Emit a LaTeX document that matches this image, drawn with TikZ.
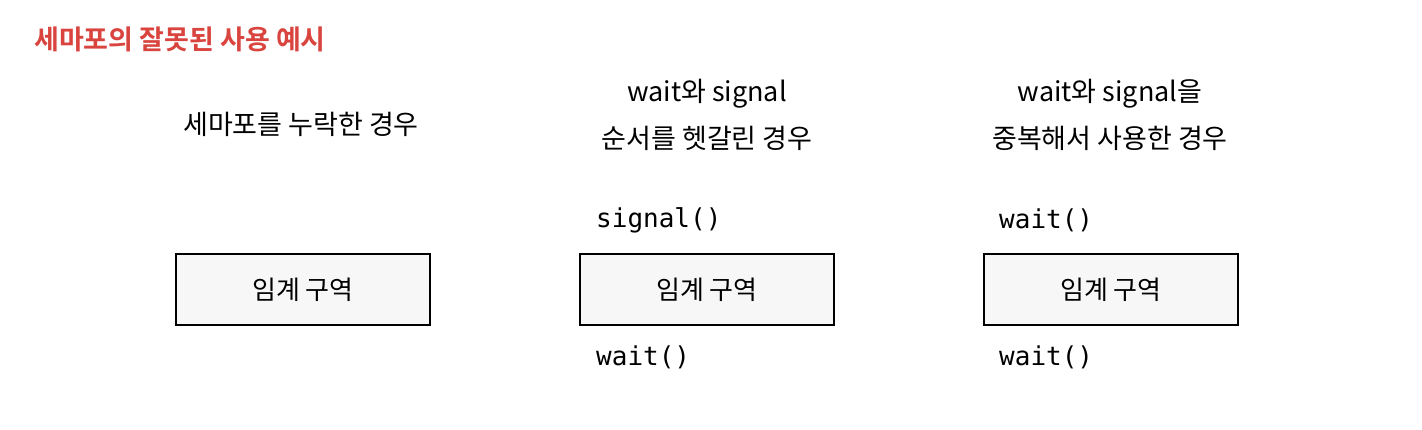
\documentclass[tikz,border=0pt]{standalone}
\usepackage{fontspec}
\newfontfamily\kr{Noto Sans CJK KR}
\newfontfamily\krb{Noto Sans CJK KR Bold}
\newfontfamily\mono{DejaVu Sans Mono}
\definecolor{titlered}{HTML}{D9443F}
\definecolor{boxfill}{HTML}{F7F7F7}
\tikzset{
  crit/.style={draw=black, line width=2pt, fill=boxfill, minimum width=254pt, minimum height=71pt, inner sep=0pt, font=\kr\fontsize{26}{30}\selectfont},
  hand/.style={font=\kr\fontsize{27}{30}\selectfont, inner sep=0pt, align=center},
  code/.style={font=\mono\fontsize{26}{30}\selectfont, inner sep=0pt, anchor=west},
}
\begin{document}
\begin{tikzpicture}[x=1pt,y=-1pt]
\useasboundingbox (0,0) rectangle (1422,430);
\node[font=\krb\fontsize{27}{32}\selectfont, text=titlered, anchor=west, inner sep=0pt] (title) at (34,39) {세마포의 잘못된 사용 예시};

\node[hand] (h1) at (301,124) {세마포를 누락한 경우};
\node[hand] (h2a) at (707,94) {wait와 signal};
\node[hand] (h2b) at (707,138) {순서를 헷갈린 경우};
\node[hand] (h3a) at (1110,94) {wait와 signal을};
\node[hand] (h3b) at (1110,138) {중복해서 사용한 경우};

\node[crit] (b1) at (303,289.5) {임계 구역};
\node[crit] (b2) at (707,289.5) {임계 구역};
\node[crit] (b3) at (1111,289.5) {임계 구역};

\node[code] (s2) at (596,220) {signal()};
\node[code] (w2) at (596,357) {wait()};
\node[code] (w3a) at (999,220) {wait()};
\node[code] (w3b) at (999,357) {wait()};
\end{tikzpicture}
\end{document}
